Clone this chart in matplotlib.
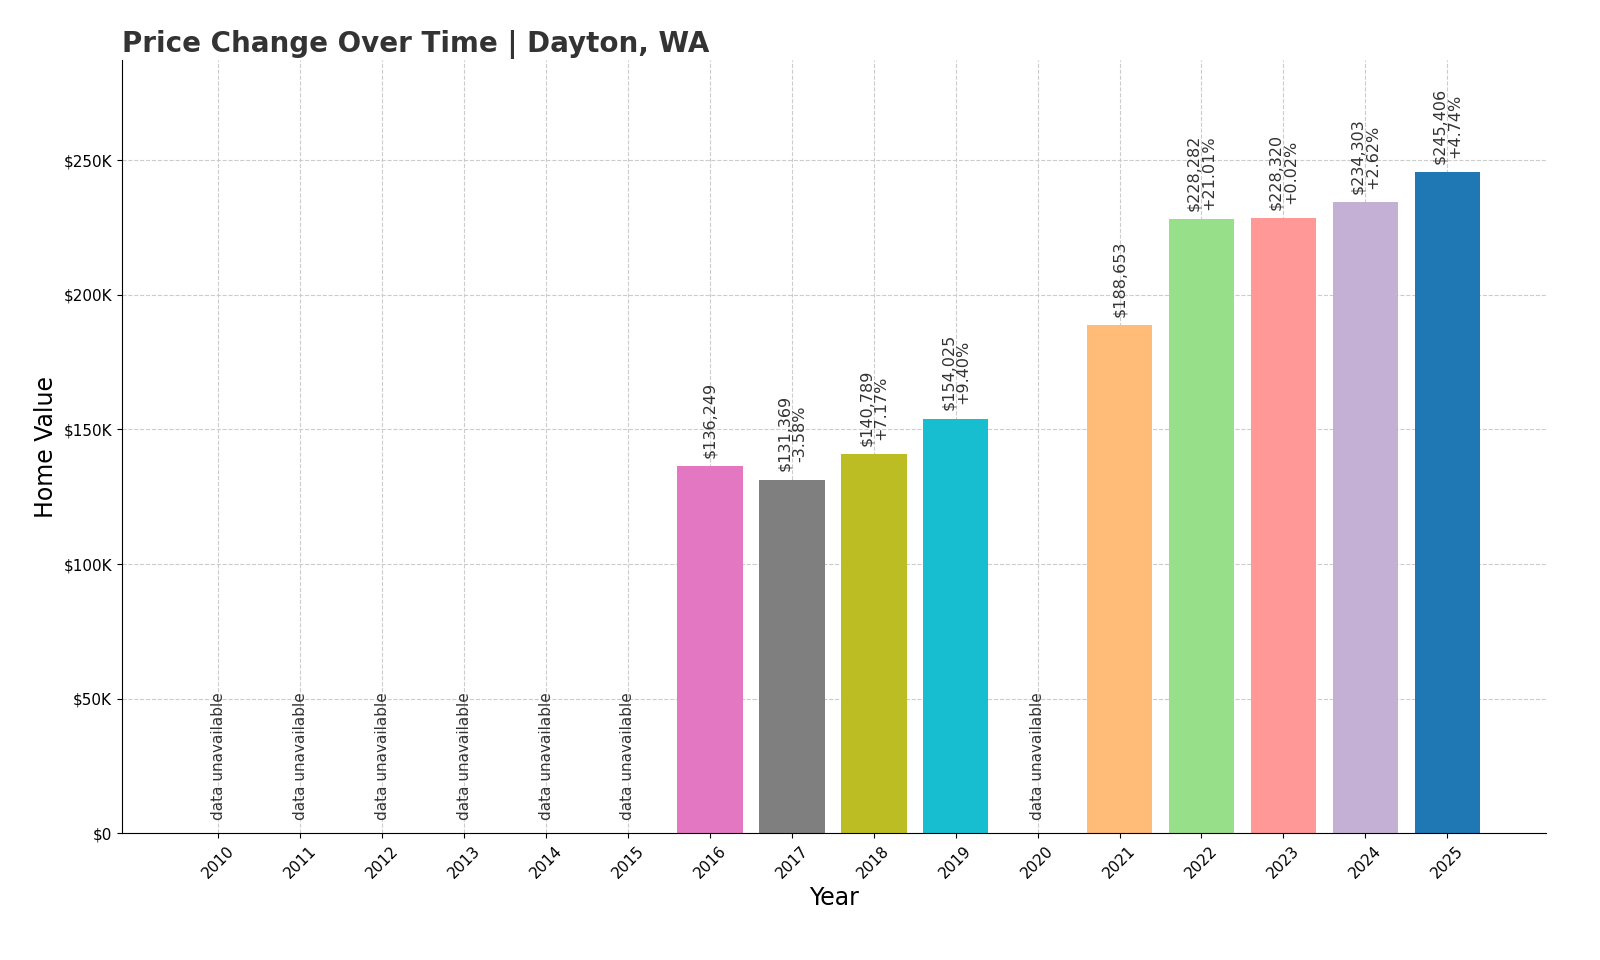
import matplotlib.pyplot as plt
from matplotlib.ticker import FuncFormatter

years = list(range(2010, 2026))
values = [None, None, None, None, None, None, 136249, 131369, 140789, 154025,
          None, 188653, 228282, 228320, 234303, 245406]
colors = {2016: "#e377c2", 2017: "#7f7f7f", 2018: "#bcbd22", 2019: "#17becf",
          2021: "#ffbb78", 2022: "#98df8a", 2023: "#ff9896", 2024: "#c5b0d5",
          2025: "#1f77b4"}

fig = plt.figure(figsize=(16, 9.6), dpi=100)
ax = fig.add_axes([0.076, 0.132, 0.89, 0.805])

for i, (yr, v) in enumerate(zip(years, values)):
    if v is None:
        ax.text(yr, 5000, "data unavailable", rotation=90, ha="center", va="bottom",
                fontsize=11, color="#333333")
        continue
    ax.bar(yr, v, width=0.8, color=colors[yr], zorder=2)
    label = "${:,}".format(v)
    prev = values[i - 1] if i > 0 else None
    if prev is not None:
        label += "\n{:+.2f}%".format((v - prev) / prev * 100)
    ax.text(yr, v + 3000, label, rotation=90, ha="center", va="bottom",
            fontsize=11.5, color="#333333", linespacing=1.0)

ax.set_xlim(2008.82, 2026.2)
ax.set_ylim(0, 287000)
ax.set_xticks(years)
ax.set_xticklabels([str(y) for y in years], rotation=45, fontsize=11)
ax.set_yticks(range(0, 250001, 50000))
ax.yaxis.set_major_formatter(FuncFormatter(lambda x, p: "$0" if x == 0 else "${:.0f}K".format(x / 1000)))
ax.tick_params(axis="y", labelsize=11)
ax.grid(True, linestyle="--", color="#cccccc", zorder=0)
ax.set_axisbelow(True)
ax.spines["top"].set_visible(False)
ax.spines["right"].set_visible(False)
ax.set_xlabel("Year", fontsize=17)
ax.set_ylabel("Home Value", fontsize=17)
ax.set_title("Price Change Over Time | Dayton, WA", loc="left", fontsize=20,
             fontweight="bold", color="#333333")

fig.savefig("out.png")
